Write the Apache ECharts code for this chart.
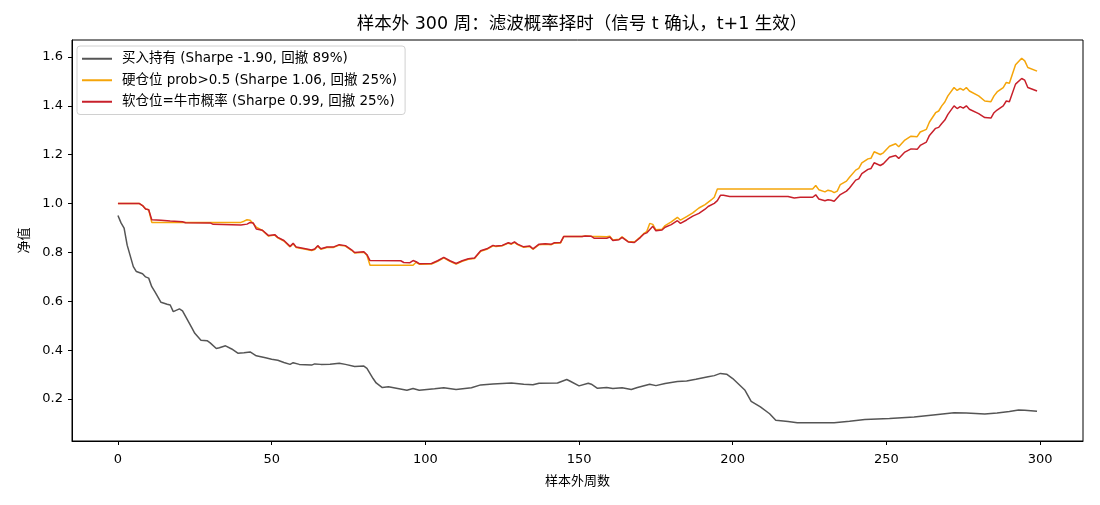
<!DOCTYPE html>
<html>
<head>
<meta charset="utf-8">
<script src="https://cdn.jsdelivr.net/npm/echarts@6/dist/echarts.min.js"></script>
<style>
  html, body { margin: 0; background: #fff; }
  #chart { width: 1100px; height: 505px; }
</style>
</head>
<body>
<div id="chart"></div>
<script>
// 买入持有
var holdWeeks = [0,1,2,3,5,6,8,9,10,11,12,14,16,17,18,20,21,24,25,27,29,30,32,33,35,37,39,41,43,45,48,50,52,54,56,57,59,63,64,66,69,72,74,77,80,81,83,84,86,88,91,94,96,98,103,106,110,115,118,122,128,132,135,137,143,146,147,150,153,154,156,159,161,164,167,169,173,175,178,182,185,188,192,194,196,198,200,204,206,209,212,214,218,221,228,233,238,243,251,259,266,272,276,282,286,290,293,295,299];
var holdNav = [0.951,0.921,0.9,0.83,0.742,0.722,0.713,0.7,0.695,0.66,0.64,0.596,0.588,0.585,0.558,0.569,0.561,0.492,0.469,0.441,0.439,0.43,0.407,0.41,0.418,0.405,0.388,0.39,0.393,0.377,0.369,0.363,0.359,0.35,0.342,0.349,0.342,0.339,0.344,0.342,0.343,0.347,0.342,0.333,0.335,0.326,0.284,0.266,0.247,0.25,0.243,0.236,0.243,0.236,0.242,0.246,0.239,0.246,0.258,0.262,0.266,0.261,0.259,0.265,0.266,0.28,0.274,0.254,0.265,0.261,0.244,0.247,0.243,0.246,0.239,0.247,0.261,0.255,0.264,0.272,0.274,0.281,0.291,0.296,0.305,0.302,0.284,0.236,0.191,0.168,0.14,0.113,0.108,0.103,0.103,0.103,0.109,0.116,0.12,0.127,0.136,0.144,0.143,0.139,0.143,0.149,0.155,0.154,0.15];

// 硬仓位 prob>0.5
var hardWeeks = [0,7,8,9,10,11,21,40,41,42,43,45,47,49,51,52,54,56,57,58,61,63,64,65,66,68,70,72,74,76,77,80,81,82,96,97,98,102,104,106,108,110,112,114,116,118,120,122,123,125,127,128,129,130,132,134,135,137,139,141,142,144,145,151,152,154,159,160,161,163,164,166,168,170,171,172,173,174,175,177,178,180,182,183,185,187,189,191,193,194,195,226,227,228,230,231,232,233,234,235,237,238,240,241,242,244,245,246,248,249,251,253,254,256,258,260,261,263,264,266,267,268,269,270,272,273,274,275,276,277,280,282,284,285,286,288,289,290,292,294,295,296,299];
var hardNav = [1.0,1.0,0.992,0.978,0.975,0.923,0.923,0.923,0.928,0.934,0.932,0.904,0.89,0.867,0.871,0.86,0.847,0.823,0.836,0.82,0.813,0.808,0.812,0.826,0.813,0.82,0.82,0.83,0.826,0.809,0.798,0.801,0.789,0.748,0.748,0.76,0.752,0.753,0.764,0.778,0.764,0.753,0.764,0.772,0.775,0.805,0.813,0.827,0.824,0.827,0.838,0.834,0.841,0.832,0.821,0.824,0.813,0.832,0.834,0.832,0.838,0.839,0.865,0.865,0.867,0.866,0.864,0.866,0.851,0.854,0.864,0.845,0.843,0.864,0.877,0.885,0.919,0.915,0.893,0.895,0.91,0.925,0.944,0.932,0.947,0.962,0.982,0.996,1.015,1.026,1.06,1.06,1.074,1.057,1.048,1.055,1.052,1.045,1.051,1.078,1.092,1.108,1.137,1.144,1.167,1.183,1.186,1.212,1.201,1.208,1.235,1.245,1.233,1.26,1.276,1.274,1.293,1.304,1.334,1.372,1.379,1.4,1.416,1.441,1.475,1.463,1.472,1.464,1.475,1.461,1.441,1.42,1.417,1.441,1.457,1.475,1.496,1.493,1.568,1.595,1.584,1.557,1.542];

// 软仓位=牛市概率
var softWeeks = [0,7,8,9,10,11,14,17,21,22,30,31,40,42,43,44,45,47,49,51,52,54,56,57,58,61,63,64,65,66,68,70,72,74,76,77,80,81,82,92,93,95,96,97,98,102,104,106,108,110,112,114,116,118,120,122,123,125,127,128,129,130,132,134,135,137,139,141,142,144,145,151,152,154,155,159,160,161,163,164,166,168,170,171,172,174,175,177,178,180,182,183,185,187,189,191,192,194,195,196,197,199,218,220,222,226,227,228,230,231,232,233,235,237,238,240,241,242,244,245,246,248,249,251,253,254,256,258,260,261,263,264,266,267,268,269,270,272,273,274,275,276,277,280,282,284,285,286,288,289,290,292,294,295,296,299];
var softNav = [1.0,1.0,0.992,0.978,0.975,0.934,0.932,0.929,0.926,0.922,0.921,0.915,0.912,0.916,0.923,0.921,0.896,0.891,0.869,0.873,0.862,0.849,0.825,0.838,0.822,0.815,0.81,0.814,0.828,0.815,0.822,0.822,0.832,0.828,0.811,0.8,0.803,0.791,0.767,0.766,0.759,0.758,0.767,0.762,0.754,0.755,0.766,0.78,0.766,0.755,0.766,0.774,0.777,0.807,0.815,0.829,0.826,0.829,0.84,0.836,0.843,0.834,0.823,0.826,0.815,0.834,0.836,0.834,0.84,0.841,0.865,0.865,0.867,0.866,0.858,0.858,0.863,0.849,0.852,0.862,0.843,0.841,0.862,0.875,0.88,0.907,0.889,0.892,0.903,0.914,0.93,0.919,0.933,0.949,0.96,0.977,0.988,1.001,1.012,1.034,1.034,1.029,1.029,1.023,1.026,1.026,1.036,1.019,1.012,1.016,1.014,1.01,1.037,1.051,1.064,1.096,1.101,1.123,1.14,1.144,1.167,1.156,1.163,1.19,1.197,1.185,1.211,1.224,1.222,1.238,1.252,1.279,1.308,1.312,1.328,1.342,1.365,1.4,1.389,1.397,1.391,1.4,1.386,1.368,1.352,1.35,1.372,1.383,1.4,1.42,1.417,1.489,1.512,1.505,1.475,1.461];

var seriesNames = ['买入持有 (Sharpe -1.90, 回撤 89%)', '硬仓位 prob>0.5 (Sharpe 1.06, 回撤 25%)', '软仓位=牛市概率 (Sharpe 0.99, 回撤 25%)'];
var xTicks = [0, 50, 100, 150, 200, 250, 300];
var yTicks = [0.2, 0.4, 0.6, 0.8, 1.0, 1.2, 1.4, 1.6];

var font = '"DejaVu Sans", "Noto Sans CJK SC", sans-serif';

function pairs(weeks, nav) {
    return weeks.map(function (w, i) { return [w, nav[i]]; });
}

// 坐标范围仿 matplotlib 的 5% 边距
var allNav = holdNav.concat(hardNav, softNav);
var yMin = Math.min.apply(null, allNav), yMax = Math.max.apply(null, allNav);
var yPad = (yMax - yMin) * 0.05;
var xPad = 299 * 0.05;

var chart = echarts.init(document.getElementById('chart'));
chart.setOption({
    animation: false,
    textStyle: { fontFamily: font },
    title: {
        text: '样本外 300 周：滤波概率择时（信号 t 确认，t+1 生效）',
        left: 577, top: 11, textAlign: 'center',
        textStyle: { fontSize: 17.5, fontWeight: 'normal', color: '#000', fontFamily: font }
    },
    legend: {
        orient: 'vertical', left: 77, top: 46,
        padding: [6, 8, 6, 5], itemGap: 8,
        icon: 'rect', itemWidth: 30, itemHeight: 2,
        borderColor: '#d0d0d0', borderWidth: 1, borderRadius: 3,
        backgroundColor: 'rgba(255,255,255,0.8)',
        textStyle: { fontSize: 13.5, color: '#000', padding: [0, 0, 0, 5], fontFamily: font },
        data: seriesNames
    },
    grid: {
        left: 72, right: 17, top: 40, bottom: 64,
        show: true, borderColor: '#000', borderWidth: 1
    },
    xAxis: {
        type: 'value',
        min: -xPad, max: 299 + xPad,
        name: '样本外周数', nameLocation: 'middle', nameGap: 34,
        nameTextStyle: { fontSize: 13, color: '#000' },
        axisLine: { show: true, onZero: false, lineStyle: { color: '#000' } },
        axisTick: { show: true, customValues: xTicks, length: 4, lineStyle: { color: '#000' } },
        axisLabel: { customValues: xTicks, color: '#000', fontSize: 13, margin: 12 },
        splitLine: { show: false }
    },
    yAxis: {
        type: 'value',
        min: yMin - yPad, max: yMax + yPad,
        name: '净值', nameLocation: 'middle', nameGap: 37, nameRotate: 90,
        nameTextStyle: { fontSize: 13, color: '#000' },
        axisLine: { show: true, onZero: false, lineStyle: { color: '#000' } },
        axisTick: { show: true, customValues: yTicks, length: 4, lineStyle: { color: '#000' } },
        axisLabel: {
            customValues: yTicks, color: '#000', fontSize: 13, margin: 9,
            formatter: function (v) { return v.toFixed(1); }
        },
        splitLine: { show: false }
    },
    series: [
        { name: seriesNames[0], type: 'line', symbol: 'none', data: pairs(holdWeeks, holdNav),
          color: '#555555', lineStyle: { width: 1.5, color: '#555555' } },
        { name: seriesNames[1], type: 'line', symbol: 'none', data: pairs(hardWeeks, hardNav),
          color: '#f5a50a', lineStyle: { width: 1.5, color: '#f5a50a' } },
        { name: seriesNames[2], type: 'line', symbol: 'none', data: pairs(softWeeks, softNav),
          color: '#c8202b', lineStyle: { width: 1.5, color: '#c8202b' } }
    ]
});
</script>
</body>
</html>
